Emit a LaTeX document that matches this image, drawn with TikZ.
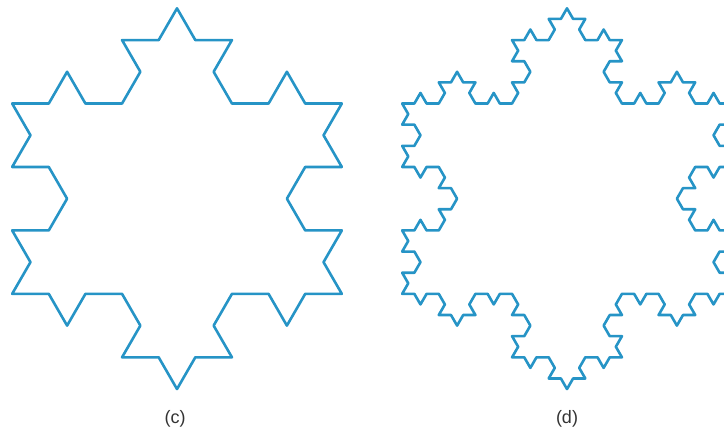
\documentclass[tikz,border=0pt]{standalone}
\usepackage{fontspec}
\setmainfont{Liberation Sans}
\definecolor{flakeblue}{RGB}{38,148,198}
\tikzset{
  flake/.style={draw=flakeblue, line width=2.6pt, line join=round},
  caption/.style={font=\fontsize{18}{20}\selectfont, text=black!80, anchor=center}
}
% recursive Koch segment: level, x1, y1, x2, y2 (appends to \kpath)
\newcommand\kochseg[5]{%
  \ifnum#1=0
    \xdef\kpath{\kpath -- (#4,#5)}%
  \else
    \begingroup
    \pgfmathsetmacro\kdx{((#4)-(#2))/3}%
    \pgfmathsetmacro\kdy{((#5)-(#3))/3}%
    \pgfmathsetmacro\kax{(#2)+\kdx}%
    \pgfmathsetmacro\kay{(#3)+\kdy}%
    \pgfmathsetmacro\kbx{(#2)+2*\kdx}%
    \pgfmathsetmacro\kby{(#3)+2*\kdy}%
    \pgfmathsetmacro\kpx{\kax+0.5*\kdx+0.8660254*\kdy}%
    \pgfmathsetmacro\kpy{\kay-0.8660254*\kdx+0.5*\kdy}%
    \edef\knext{%
      \noexpand\kochseg{\the\numexpr#1-1\relax}{#2}{#3}{\kax}{\kay}%
      \noexpand\kochseg{\the\numexpr#1-1\relax}{\kax}{\kay}{\kpx}{\kpy}%
      \noexpand\kochseg{\the\numexpr#1-1\relax}{\kpx}{\kpy}{\kbx}{\kby}%
      \noexpand\kochseg{\the\numexpr#1-1\relax}{\kbx}{\kby}{#4}{#5}%
    }%
    \expandafter\endgroup\knext
  \fi}
% snowflake: level, centre x, centre y, circumradius
\newcommand\kochflake[4]{%
  \pgfmathsetmacro\klx{#2-0.8660254*#4}%
  \pgfmathsetmacro\krx{#2+0.8660254*#4}%
  \pgfmathsetmacro\kly{#3-0.5*#4}%
  \pgfmathsetmacro\kty{#3+#4}%
  \xdef\kpath{(\klx,\kly)}%
  \kochseg{#1}{\klx}{\kly}{\krx}{\kly}%
  \kochseg{#1}{\krx}{\kly}{#2}{\kty}%
  \kochseg{#1}{#2}{\kty}{\klx}{\kly}%
  \edef\kdraw{\noexpand\draw[flake] \kpath -- cycle;}\kdraw}
\begin{document}
\begin{tikzpicture}[x=1pt,y=1pt]
  \useasboundingbox (0,0) rectangle (724,436);
  \kochflake{2}{177}{237.3}{190.35}
  \kochflake{3}{567}{237.3}{190.35}
  \node[caption] (labc) at (175,17) {(c)};
  \node[caption] (labd) at (567,17) {(d)};
\end{tikzpicture}
\end{document}
